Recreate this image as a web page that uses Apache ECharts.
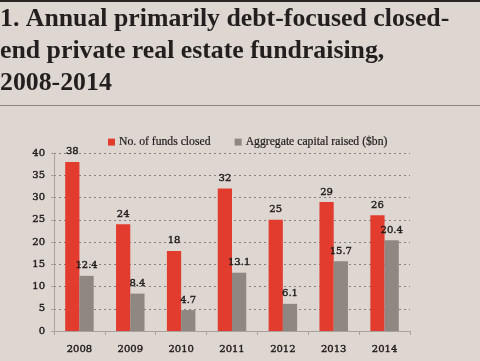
<!DOCTYPE html>
<html><head><meta charset="utf-8">
<script src="https://cdn.jsdelivr.net/npm/echarts@6/dist/echarts.min.js"></script>
<style>html,body{margin:0;padding:0;background:#ddd6d1;}#c{width:480px;height:361px;}</style>
</head><body><div id="c"></div>
<script>
const categories = ['2008','2009','2010','2011','2012','2013','2014'];
const fundsClosed = [38, 24, 18, 32, 25, 29, 26];
const capitalRaised = [12.4, 8.4, 4.7, 13.1, 6.1, 15.7, 20.4];
const yTicks = {min: 0, max: 40, interval: 5};
const seriesNames = ['No. of funds closed', 'Aggregate capital raised ($bn)'];
const titleText = '1. Annual primarily debt-focused closed-\nend private real estate fundraising,\n2008-2014';

const titleFont = 'Liberation Serif';
const numFont = 'DejaVu Serif';
const ink = '#1f1b1a';
const chart = echarts.init(document.getElementById('c'), null, {renderer: 'canvas'});
const numStyle = {fontFamily: numFont, fontSize: 10, color: ink, textBorderColor: ink, textBorderWidth: 0.4};
chart.setOption({
  backgroundColor: '#ddd6d1',
  animation: false,
  title: {
    text: titleText,
    left: -5, top: -2,
    textStyle: {fontFamily: titleFont, fontWeight: 'bold', fontSize: 25.8, lineHeight: 32, color: '#231f1e'}
  },
  graphic: [
    {type: 'rect', left: 0, top: 0, shape: {width: 480, height: 2}, style: {fill: '#2a2626'}},
    {type: 'rect', left: 0, top: 105, shape: {width: 480, height: 1}, style: {fill: '#8c8682'}}
  ],
  legend: {
    data: seriesNames,
    left: 103, top: 131,
    icon: 'rect', itemWidth: 7, itemHeight: 7, itemGap: 24,
    textStyle: {fontFamily: titleFont, fontSize: 11.7, color: ink, textBorderColor: ink, textBorderWidth: 0.2, padding: [0,0,0,-1]}
  },
  grid: {left: 54, right: 70, top: 153, bottom: 30, containLabel: false},
  xAxis: {
    type: 'category', data: categories,
    axisLine: {lineStyle: {color: '#a8a29e'}},
    axisTick: {show: true, length: 4, lineStyle: {color: '#a8a29e'}},
    axisLabel: Object.assign({margin: 13}, numStyle)
  },
  yAxis: {
    type: 'value', min: yTicks.min, max: yTicks.max, interval: yTicks.interval,
    axisLine: {show: true, lineStyle: {color: '#a8a29e'}},
    axisTick: {show: true, length: 3, lineStyle: {color: '#a8a29e'}},
    axisLabel: Object.assign({margin: 9}, numStyle),
    splitLine: {lineStyle: {color: '#85807c', type: [2, 3], width: 1}}
  },
  series: [
    {
      name: seriesNames[0], type: 'bar', data: fundsClosed,
      barGap: '0%', barCategoryGap: '44%',
      itemStyle: {color: '#e23c2f'},
      label: Object.assign({show: true, position: 'top', distance: 5}, numStyle)
    },
    {
      name: seriesNames[1], type: 'bar', data: capitalRaised,
      itemStyle: {color: '#8f8782'},
      label: Object.assign({show: true, position: 'top', distance: 5}, numStyle)
    }
  ]
});
</script>
</body></html>
